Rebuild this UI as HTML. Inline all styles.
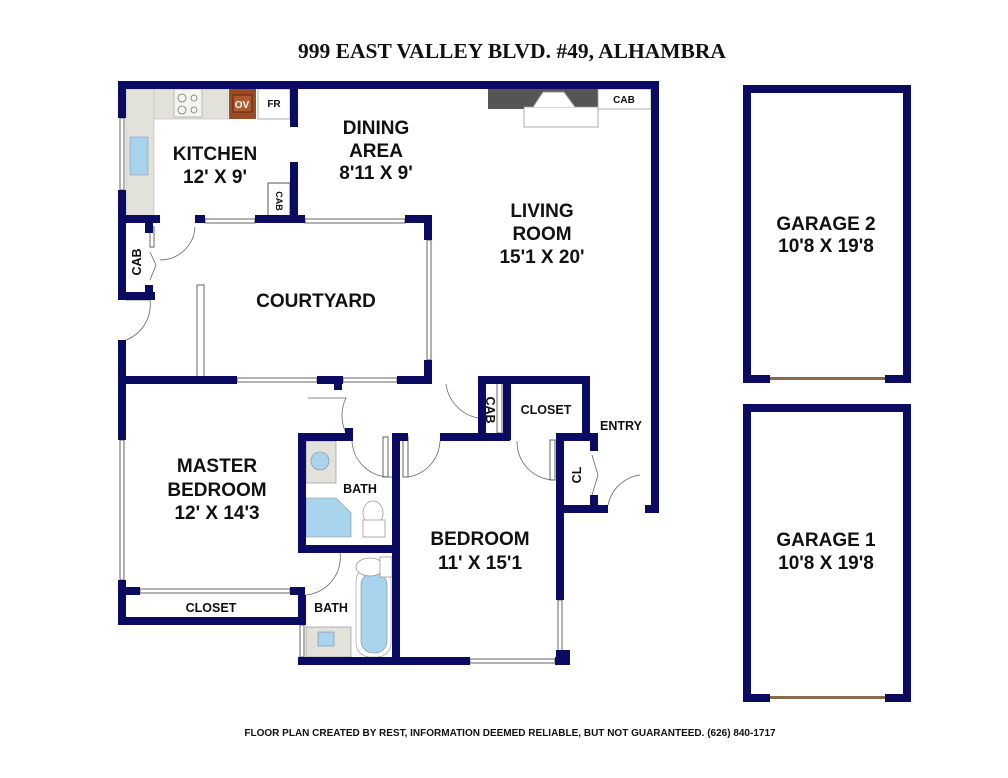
<!DOCTYPE html>
<html><head><meta charset="utf-8"><style>
html,body{margin:0;padding:0;background:#fff;}
svg{display:block;}
text{font-family:"Liberation Sans",Arial,sans-serif;font-weight:bold;fill:#111;text-anchor:middle;}
</style></head><body>
<svg width="1008" height="778" viewBox="0 0 1008 778" xmlns="http://www.w3.org/2000/svg">
<rect width="1008" height="778" fill="#fff"/>
<text x="512" y="58" style="font-family:'Liberation Serif',serif;font-size:21.5px">999 EAST VALLEY BLVD. #49, ALHAMBRA</text>

<g fill="#e2e2da" stroke="#bbb" stroke-width="0.6">
<rect x="126" y="89" width="102" height="30"/>
<rect x="126" y="89" width="28" height="130"/>
</g>
<rect x="174" y="89" width="28" height="28" fill="#f4f4f0" stroke="#999" stroke-width="0.6"/>
<g fill="none" stroke="#777" stroke-width="0.8"><circle cx="182" cy="98" r="4"/><circle cx="194" cy="98" r="3"/><circle cx="182" cy="110" r="4"/><circle cx="194" cy="110" r="3"/></g>
<rect x="229" y="89" width="27" height="30" fill="#9a4a25"/>
<rect x="233" y="95" width="19" height="17" fill="#b05a30" stroke="#5a2a10" stroke-width="1"/>
<text x="242" y="108" style="font-size:10px;fill:#fff">OV</text>
<rect x="258" y="89" width="32" height="30" fill="#fff" stroke="#999" stroke-width="0.8"/>
<text x="274" y="107" style="font-size:10px">FR</text>
<rect x="130" y="137" width="18" height="38" fill="#a8d4ee" stroke="#88a" stroke-width="0.5"/>
<rect x="268" y="183" width="22" height="36" fill="#fff" stroke="#555" stroke-width="1"/>
<text transform="translate(279,201) rotate(90)" style="font-size:9px" dy="3">CAB</text>

<rect x="488" y="89" width="110" height="20" fill="#555"/>
<rect x="524" y="107" width="74" height="20" fill="#fff" stroke="#999" stroke-width="0.8"/>
<path d="M533 107 L543 92 L564 92 L575 107" fill="#fff" stroke="#999" stroke-width="1"/>
<rect x="598" y="89" width="53" height="20" fill="#fff" stroke="#999" stroke-width="0.8"/>
<text x="624" y="103" style="font-size:10px">CAB</text>

<g fill="#fff" stroke="#666" stroke-width="1">
<rect x="120" y="118" width="4" height="72"/>
<rect x="205" y="219" width="50" height="4"/>
<rect x="305" y="219" width="100" height="4"/>
<rect x="427" y="240" width="4" height="120"/>
<rect x="120" y="440" width="4" height="140"/>
<rect x="237" y="378" width="80" height="4"/>
<rect x="343" y="378" width="54" height="4"/>
<rect x="140" y="589" width="150" height="4"/>
<rect x="470" y="659" width="85" height="4"/>
<rect x="558" y="600" width="4" height="55"/>
<rect x="300" y="625" width="4" height="32"/>
<rect x="197" y="285" width="7" height="93"/>
<rect x="383" y="437" width="5" height="40"/>
<rect x="403" y="437" width="5" height="40"/>
<rect x="550" y="440" width="5" height="40"/>
<rect x="497" y="378" width="5" height="55"/>
<rect x="150" y="227" width="4" height="20"/>
</g>

<g fill="#a8d4ee" stroke="#889" stroke-width="0.6">
<rect x="306" y="441" width="30" height="42" fill="#e2e2da"/>
<circle cx="320" cy="461" r="9"/>
<path d="M306 498 L336 498 L351 513 L351 537 L306 537 Z"/>
<rect x="356" y="567" width="35" height="90" rx="14" fill="#fff" stroke="#999"/>
<rect x="361" y="573" width="26" height="80" rx="12"/>
<rect x="306" y="627" width="45" height="30" fill="#e2e2da"/>
<rect x="318" y="632" width="16" height="14"/>
</g>
<g fill="#fff" stroke="#999" stroke-width="0.8">
<ellipse cx="373" cy="513" rx="10" ry="12"/><rect x="363" y="520" width="22" height="17"/>
<ellipse cx="370" cy="567" rx="14" ry="9"/><rect x="380" y="557" width="12" height="20"/>
</g>

<g fill="none" stroke="#666" stroke-width="0.8">
<path d="M160 260 A35 35 0 0 0 195 227"/>
<path d="M126 300 L150 300 A38 38 0 0 1 126 340"/>
<path d="M308 398 L346 398 A40 40 0 0 0 346 433"/>
<path d="M392 477 A38 38 0 0 1 352 441"/>
<path d="M408 477 A38 38 0 0 0 440 441"/>
<path d="M446 384 A40 40 0 0 0 478 418"/>
<path d="M555 480 A38 38 0 0 1 517 441"/>
<path d="M608 505 A38 38 0 0 1 640 475"/>
<path d="M306 552 L340 552 A38 38 0 0 1 306 595"/>
<path d="M150 252 L156 265 L150 280"/>
<path d="M592 455 L598 475 L592 495"/>
</g>

<g fill="#0b0b62">
<rect x="118" y="81" width="541" height="8"/>
<rect x="651" y="81" width="8" height="432"/>
<rect x="118" y="81" width="8" height="37"/>
<rect x="118" y="190" width="8" height="110"/>
<rect x="118" y="340" width="8" height="100"/>
<rect x="118" y="580" width="8" height="45"/>
<rect x="290" y="89" width="8" height="38"/>
<rect x="290" y="162" width="8" height="61"/>
<rect x="118" y="215" width="42" height="8"/>
<rect x="195" y="215" width="10" height="8"/>
<rect x="255" y="215" width="50" height="8"/>
<rect x="405" y="215" width="27" height="8"/>
<rect x="424" y="215" width="8" height="25"/>
<rect x="424" y="360" width="8" height="24"/>
<rect x="145" y="223" width="8" height="10"/>
<rect x="145" y="285" width="8" height="10"/>
<rect x="118" y="292" width="37" height="8"/>
<rect x="118" y="376" width="119" height="8"/>
<rect x="317" y="376" width="26" height="8"/>
<rect x="334" y="376" width="8" height="14"/>
<rect x="397" y="376" width="35" height="8"/>
<rect x="478" y="376" width="112" height="8"/>
<rect x="478" y="376" width="8" height="57"/>
<rect x="503" y="376" width="8" height="64"/>
<rect x="582" y="376" width="8" height="64"/>
<rect x="345" y="428" width="8" height="13"/>
<rect x="298" y="433" width="55" height="8"/>
<rect x="392" y="433" width="16" height="8"/>
<rect x="440" y="433" width="70" height="8"/>
<rect x="556" y="433" width="34" height="8"/>
<rect x="298" y="433" width="8" height="120"/>
<rect x="298" y="545" width="94" height="8"/>
<rect x="298" y="595" width="8" height="30"/>
<rect x="298" y="657" width="172" height="8"/>
<rect x="555" y="657" width="15" height="8"/>
<rect x="392" y="433" width="8" height="232"/>
<rect x="556" y="433" width="8" height="167"/>
<rect x="556" y="650" width="14" height="15"/>
<rect x="556" y="505" width="52" height="8"/>
<rect x="590" y="433" width="8" height="18"/>
<rect x="590" y="495" width="8" height="18"/>
<rect x="645" y="505" width="14" height="8"/>
<rect x="118" y="617" width="187" height="8"/>
<rect x="118" y="587" width="22" height="8"/>
<rect x="290" y="587" width="15" height="8"/>
<rect x="743" y="85" width="168" height="8"/>
<rect x="743" y="85" width="8" height="298"/>
<rect x="903" y="85" width="8" height="298"/>
<rect x="743" y="375" width="27" height="8"/>
<rect x="885" y="375" width="26" height="8"/>
<rect x="743" y="404" width="168" height="8"/>
<rect x="743" y="404" width="8" height="298"/>
<rect x="903" y="404" width="8" height="298"/>
<rect x="743" y="694" width="27" height="8"/>
<rect x="885" y="694" width="26" height="8"/>
</g>
<rect x="770" y="377" width="115" height="3" fill="#8a6a4a"/>
<rect x="770" y="696" width="115" height="3" fill="#8a6a4a"/>

<g style="font-size:19px">
<text x="215" y="160">KITCHEN</text><text x="215" y="183">12' X 9'</text>
<text x="376" y="134">DINING</text><text x="376" y="157">AREA</text><text x="376" y="179">8'11 X 9'</text>
<text x="542" y="217">LIVING</text><text x="542" y="240">ROOM</text><text x="542" y="263">15'1 X 20'</text>
<text x="316" y="307">COURTYARD</text>
<text x="217" y="472">MASTER</text><text x="217" y="496">BEDROOM</text><text x="217" y="519">12' X 14'3</text>
<text x="480" y="545">BEDROOM</text><text x="480" y="569">11' X 15'1</text>
<text x="826" y="230">GARAGE 2</text><text x="826" y="252">10'8 X 19'8</text>
<text x="826" y="546">GARAGE 1</text><text x="826" y="569">10'8 X 19'8</text>
</g>
<g style="font-size:12.5px">
<text x="360" y="493">BATH</text><text x="331" y="612">BATH</text>
<text x="546" y="414">CLOSET</text><text x="211" y="612">CLOSET</text>
<text x="621" y="430">ENTRY</text>
<text transform="translate(137,262) rotate(-90)" dy="4">CAB</text>
<text transform="translate(490,410) rotate(90)" dy="4">CAB</text>
<text transform="translate(577,475) rotate(-90)" dy="4">CL</text>
</g>
<text x="510" y="736" style="font-size:10px">FLOOR PLAN CREATED BY REST, INFORMATION DEEMED RELIABLE, BUT NOT GUARANTEED. (626) 840-1717</text>
</svg>
</body></html>
